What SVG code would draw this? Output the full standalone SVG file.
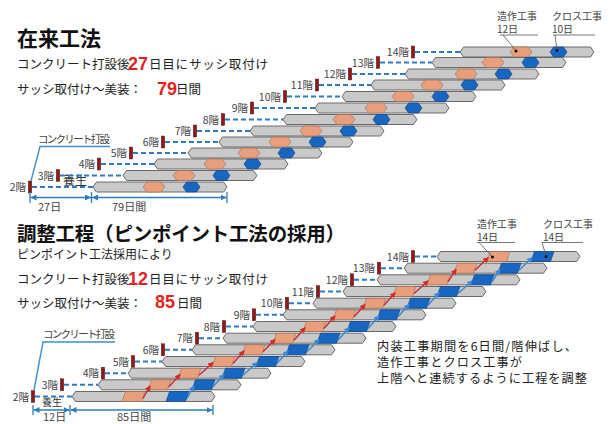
<svg xmlns="http://www.w3.org/2000/svg" xmlns:xlink="http://www.w3.org/1999/xlink" width="610" height="424" viewBox="0 0 610 424">
<style>
text{font-family:"Noto Sans CJK JP","Noto Sans",sans-serif;fill:#222}
.ttl{font-size:21px;font-weight:bold;fill:#111}
.t{font-size:12.5px}
.red{font-family:"Liberation Sans",Arial,sans-serif;font-size:18px;font-weight:bold;fill:#e0231f}
.lbl{font-size:10.5px;fill:#444;text-anchor:end}
.ann{font-size:10px;fill:#444}
.dim{font-size:11px;fill:#444}
.note{font-size:12.2px;fill:#222}
.bar{fill:#c9c9c9;stroke:#6a6a6a;stroke-width:1;stroke-linejoin:round}
.o{fill:#e99f7b;stroke:#9c6a52;stroke-width:0.6}
.b{fill:#1766c2;stroke:#0d3f80;stroke-width:0.6}
.mk{fill:#8c1c1c;stroke:#5a1010;stroke-width:0.4}
.dash{stroke:#2f7bbf;stroke-width:2;stroke-dasharray:5 3;fill:none}
.ra{stroke:#d42a2a;stroke-width:1.5;fill:none;marker-end:url(#ahr)}
.ba{stroke:#3a8ad6;stroke-width:1.5;fill:none;marker-end:url(#ahb)}
.cl{stroke:#3d8fd1;stroke-width:1.4;fill:none}
.dl{stroke:#2f7bbf;stroke-width:1.3;fill:none;marker-start:url(#dhs);marker-end:url(#dhe)}
.tk{stroke:#2f7bbf;stroke-width:1.3}
.al{stroke:#555;stroke-width:0.8;fill:none}
</style>
<defs>
<path id="barT" class="bar" d="M0,0 L3.5,-5 H130.5 L134,0 L130.5,5 H3.5 Z"/>
<path id="barB" class="bar" d="M0,0 L3.5,-5 H139.5 L143,0 L139.5,5 H3.5 Z"/>
<path id="hoT" class="o" d="M0,0 L4,-5 H18 L22,0 L18,5 H4 Z"/>
<path id="hbT" class="b" d="M0,0 L3.5,-5 H13.5 L17,0 L13.5,5 H3.5 Z"/>
<path id="hoB" class="o" d="M0,5 L3.5,-5 H23 L19.5,5 Z"/>
<path id="hbB" class="b" d="M0,5 L3.5,-5 H23 L19.5,5 Z"/>
<rect id="mk" class="mk" x="-1.75" y="-6" width="3.5" height="12"/>
<marker id="ahr" viewBox="0 0 6 6" refX="5" refY="3" markerWidth="6" markerHeight="6" markerUnits="userSpaceOnUse" orient="auto"><path d="M0,0 L6,3 L0,6 Z" fill="#d42a2a"/></marker>
<marker id="ahb" viewBox="0 0 6 6" refX="5" refY="3" markerWidth="6" markerHeight="6" markerUnits="userSpaceOnUse" orient="auto"><path d="M0,0 L6,3 L0,6 Z" fill="#3a8ad6"/></marker>
<marker id="dhe" viewBox="0 0 6 6" refX="6" refY="3" markerWidth="6" markerHeight="6" markerUnits="userSpaceOnUse" orient="auto"><path d="M0,0 L6,3 L0,6 Z" fill="#2f7bbf"/></marker>
<marker id="dhs" viewBox="0 0 6 6" refX="0" refY="3" markerWidth="6" markerHeight="6" markerUnits="userSpaceOnUse" orient="auto"><path d="M6,0 L0,3 L6,6 Z" fill="#2f7bbf"/></marker>
</defs>
<rect width="610" height="424" fill="#ffffff"/>

<!-- Top heading texts -->
<g id="top-text">
<text class="ttl" x="17" y="45.5">在来工法</text>
<text class="t" x="17" y="69">コンクリート打設後</text>
<text class="red" x="128" y="69.5">27</text>
<text class="t" x="149" y="69" textLength="119">日目にサッシ取付け</text>
<text class="t" x="17" y="94">サッシ取付け〜美装：</text>
<text class="red" x="157" y="95">79</text>
<text class="t" x="176" y="94">日間</text>
</g>

<!-- Top rows -->
<g id="top-f14"><text class="lbl" x="409" y="56">14階</text><use href="#mk" x="413" y="52"/><use href="#barT" x="460" y="52"/><use href="#hoT" x="510" y="52"/><use href="#hbT" x="550" y="52"/></g>
<g id="top-f13"><text class="lbl" x="374" y="66.5">13階</text><use href="#mk" x="378" y="62.5"/><use href="#barT" x="432" y="62.5"/><use href="#hoT" x="482" y="62.5"/><use href="#hbT" x="522" y="62.5"/></g>
<g id="top-f12"><text class="lbl" x="346" y="78">12階</text><use href="#mk" x="350" y="74"/><use href="#barT" x="405" y="74"/><use href="#hoT" x="455" y="74"/><use href="#hbT" x="495" y="74"/></g>
<g id="top-f11"><text class="lbl" x="313" y="89">11階</text><use href="#mk" x="317" y="85"/><use href="#barT" x="371" y="85"/><use href="#hoT" x="421" y="85"/><use href="#hbT" x="461" y="85"/></g>
<g id="top-f10"><text class="lbl" x="281" y="100.5">10階</text><use href="#mk" x="285" y="96.5"/><use href="#barT" x="342" y="96.5"/><use href="#hoT" x="392" y="96.5"/><use href="#hbT" x="432" y="96.5"/></g>
<g id="top-f9"><text class="lbl" x="248" y="112">9階</text><use href="#mk" x="252" y="108"/><use href="#barT" x="315" y="108"/><use href="#hoT" x="365" y="108"/><use href="#hbT" x="405" y="108"/></g>
<g id="top-f8"><text class="lbl" x="219" y="123.5">8階</text><use href="#mk" x="223" y="119.5"/><use href="#barT" x="283" y="119.5"/><use href="#hoT" x="333" y="119.5"/><use href="#hbT" x="373" y="119.5"/></g>
<g id="top-f7"><text class="lbl" x="191" y="135">7階</text><use href="#mk" x="195" y="131"/><use href="#barT" x="250" y="131"/><use href="#hoT" x="300" y="131"/><use href="#hbT" x="340" y="131"/></g>
<g id="top-f6"><text class="lbl" x="159" y="146">6階</text><use href="#mk" x="163" y="142"/><use href="#barT" x="219" y="142"/><use href="#hoT" x="269" y="142"/><use href="#hbT" x="309" y="142"/></g>
<g id="top-f5"><text class="lbl" x="127" y="157">5階</text><use href="#mk" x="131" y="153"/><use href="#barT" x="188" y="153"/><use href="#hoT" x="238" y="153"/><use href="#hbT" x="278" y="153"/></g>
<g id="top-f4"><text class="lbl" x="95" y="168">4階</text><use href="#mk" x="99" y="164"/><use href="#barT" x="154" y="164"/><use href="#hoT" x="204" y="164"/><use href="#hbT" x="244" y="164"/></g>
<g id="top-f3"><text class="lbl" x="54" y="179.5">3階</text><use href="#mk" x="58" y="175.5"/><use href="#barT" x="123" y="175.5"/><use href="#hoT" x="173" y="175.5"/><use href="#hbT" x="213" y="175.5"/></g>
<g id="top-f2"><text class="lbl" x="26" y="191">2階</text><use href="#mk" x="30" y="187"/><use href="#barT" x="93" y="187"/><use href="#hoT" x="143" y="187"/><use href="#hbT" x="183" y="187"/></g>

<g id="top-notes">
<text class="ann"><tspan x="497" y="19.5">造作工事</tspan><tspan x="497" y="32.5">12日</tspan></text>
<text class="ann"><tspan x="552" y="19.5">クロス工事</tspan><tspan x="552" y="32.5">10日</tspan></text>
<text x="38" y="143" style="font-size:10.5px;fill:#444" textLength="72">コンクリート打設</text>
<text x="63" y="185" style="font-size:12px;fill:#333">養生</text>
<text class="dim" x="38" y="210.5">27日</text>
<text class="dim" x="112" y="210.5">79日間</text>
</g>

<!-- Bottom heading texts -->
<g id="bottom-text">
<text class="ttl" x="17" y="241" style="font-size:19.5px" textLength="328">調整工程（ピンポイント工法の採用）</text>
<text class="t" x="17" y="258.5" style="font-size:12px">ピンポイント工法採用により</text>
<text class="t" x="17" y="284">コンクリート打設後</text>
<text class="red" x="128" y="285">12</text>
<text class="t" x="149" y="284" textLength="119">日目にサッシ取付け</text>
<text class="t" x="17" y="307.5">サッシ取付け〜美装：</text>
<text class="red" x="155" y="308">85</text>
<text class="t" x="177" y="307.5">日間</text>
</g>

<!-- Bottom rows -->
<g id="bot-f14"><text class="lbl" x="409" y="260.5">14階</text><use href="#mk" x="413" y="256.5"/><use href="#barB" x="437" y="256.5"/><use href="#hoB" x="487" y="256.5"/><use href="#hbB" x="531" y="256.5"/></g>
<g id="bot-f13"><text class="lbl" x="375" y="272.2">13階</text><use href="#mk" x="379" y="268.2"/><use href="#barB" x="404" y="268.2"/><use href="#hoB" x="454" y="268.2"/><use href="#hbB" x="498" y="268.2"/></g>
<g id="bot-f12"><text class="lbl" x="348" y="283.8">12階</text><use href="#mk" x="352" y="279.8"/><use href="#barB" x="377" y="279.8"/><use href="#hoB" x="427" y="279.8"/><use href="#hbB" x="471" y="279.8"/></g>
<g id="bot-f11"><text class="lbl" x="314" y="295.5">11階</text><use href="#mk" x="318" y="291.5"/><use href="#barB" x="343" y="291.5"/><use href="#hoB" x="393" y="291.5"/><use href="#hbB" x="437" y="291.5"/></g>
<g id="bot-f10"><text class="lbl" x="283" y="307.2">10階</text><use href="#mk" x="287" y="303.2"/><use href="#barB" x="313" y="303.2"/><use href="#hoB" x="363" y="303.2"/><use href="#hbB" x="407" y="303.2"/></g>
<g id="bot-f9"><text class="lbl" x="250" y="318.8">9階</text><use href="#mk" x="254" y="314.8"/><use href="#barB" x="283" y="314.8"/><use href="#hoB" x="333" y="314.8"/><use href="#hbB" x="377" y="314.8"/></g>
<g id="bot-f8"><text class="lbl" x="220" y="330.5">8階</text><use href="#mk" x="224" y="326.5"/><use href="#barB" x="253" y="326.5"/><use href="#hoB" x="303" y="326.5"/><use href="#hbB" x="347" y="326.5"/></g>
<g id="bot-f7"><text class="lbl" x="193" y="342.2">7階</text><use href="#mk" x="197" y="338.2"/><use href="#barB" x="223" y="338.2"/><use href="#hoB" x="273" y="338.2"/><use href="#hbB" x="317" y="338.2"/></g>
<g id="bot-f6"><text class="lbl" x="159" y="353.8">6階</text><use href="#mk" x="163" y="349.8"/><use href="#barB" x="192" y="349.8"/><use href="#hoB" x="242" y="349.8"/><use href="#hbB" x="286" y="349.8"/></g>
<g id="bot-f5"><text class="lbl" x="129" y="365.5">5階</text><use href="#mk" x="133" y="361.5"/><use href="#barB" x="162" y="361.5"/><use href="#hoB" x="212" y="361.5"/><use href="#hbB" x="256" y="361.5"/></g>
<g id="bot-f4"><text class="lbl" x="99" y="377.2">4階</text><use href="#mk" x="103" y="373.2"/><use href="#barB" x="128" y="373.2"/><use href="#hoB" x="178" y="373.2"/><use href="#hbB" x="222" y="373.2"/></g>
<g id="bot-f3"><text class="lbl" x="58" y="388.8">3階</text><use href="#mk" x="62" y="384.8"/><use href="#barB" x="98" y="384.8"/><use href="#hoB" x="148" y="384.8"/><use href="#hbB" x="192" y="384.8"/></g>
<g id="bot-f2"><text class="lbl" x="29" y="400.5">2階</text><use href="#mk" x="33" y="396.5"/><use href="#barB" x="72" y="396.5"/><use href="#hoB" x="122" y="396.5"/><use href="#hbB" x="166" y="396.5"/></g>

<g id="bottom-notes">
<text class="ann"><tspan x="477" y="227.5">造作工事</tspan><tspan x="477" y="240.5">14日</tspan></text>
<text class="ann"><tspan x="543" y="227.5">クロス工事</tspan><tspan x="543" y="240.5">14日</tspan></text>
<text x="43" y="338" style="font-size:10.5px;fill:#444" textLength="72">コンクリート打設</text>
<text x="42" y="406" style="font-size:10px;fill:#333">養生</text>
<text class="dim" x="43" y="420.5">12日</text>
<text class="dim" x="117" y="420.5">85日間</text>
<text class="note" x="377" y="351" textLength="200">内装工事期間を6日間/階伸ばし、</text>
<text class="note" x="377" y="367" textLength="145">造作工事とクロス工事が</text>
<text class="note" x="377" y="383" textLength="210">上階へと連続するように工程を調整</text>
</g>

<!-- Connectors -->
<g id="connectors">
<path class="dash" d="M415,52 H460 M380,62.5 H432 M352,74 H405 M319,85 H371 M287,96.5 H342 M254,108 H315 M225,119.5 H283 M197,131 H250 M165,142 H219 M133,153 H188 M101,164 H154 M60,175.5 H123 M32,187 H93"/>
<path class="dash" d="M415,256.5 H437 M381,268.2 H404 M354,279.8 H377 M320,291.5 H343 M289,303.2 H313 M256,314.8 H283 M226,326.5 H253 M199,338.2 H223 M165,349.8 H192 M135,361.5 H162 M105,373.2 H128 M64,384.8 H98 M35,396.5 H72"/>
<path class="ra" d="M143,398.5 L150,386"/>
<path class="ra" d="M169,386.8 L180,374.4"/>
<path class="ra" d="M199,375.2 L213,362.7"/>
<path class="ra" d="M233,363.5 L244,351"/>
<path class="ra" d="M263,351.8 L275,339.4"/>
<path class="ra" d="M294,340.2 L305,327.7"/>
<path class="ra" d="M324,328.5 L335,316"/>
<path class="ra" d="M354,316.8 L365,304.4"/>
<path class="ra" d="M384,305.2 L395,292.7"/>
<path class="ra" d="M414,293.5 L428,281"/>
<path class="ra" d="M448,281.8 L456,269.4"/>
<path class="ra" d="M475,270.2 L488,257.7"/>
<path class="ba" d="M187,398.5 L194,386"/>
<path class="ba" d="M213,386.8 L224,374.4"/>
<path class="ba" d="M243,375.2 L257,362.7"/>
<path class="ba" d="M277,363.5 L288,351"/>
<path class="ba" d="M307,351.8 L319,339.4"/>
<path class="ba" d="M338,340.2 L349,327.7"/>
<path class="ba" d="M368,328.5 L379,316"/>
<path class="ba" d="M398,316.8 L409,304.4"/>
<path class="ba" d="M428,305.2 L439,292.7"/>
<path class="ba" d="M458,293.5 L472,281"/>
<path class="ba" d="M492,281.8 L500,269.4"/>
<path class="ba" d="M519,270.2 L532,257.7"/>
<path class="cl" d="M110,146.5 H40 L31,181"/>
<path class="cl" d="M115,342 H43 L34,390"/>
<line class="tk" x1="30" y1="192" x2="30" y2="203"/>
<line class="tk" x1="91.5" y1="192" x2="91.5" y2="203"/>
<line class="tk" x1="227" y1="192" x2="227" y2="203"/>
<path class="dl" d="M30.5,197.5 H91"/>
<path class="dl" d="M92,197.5 H226.5"/>
<line class="tk" x1="33" y1="405" x2="33" y2="415"/>
<line class="tk" x1="70" y1="405" x2="70" y2="415"/>
<line class="tk" x1="213" y1="405" x2="213" y2="415"/>
<path class="dl" d="M33.5,410 H69.5"/>
<path class="dl" d="M70.5,410 H212.5"/>
<path class="al" d="M500,35 H538 M503,35 L516,50.5 M553,35 H595 M555,35 L557,50"/>
<circle cx="516" cy="51" r="1.5" fill="#111"/>
<circle cx="557" cy="50.5" r="1.5" fill="#111"/>
<path class="al" d="M477,242.5 H515 M479,242.5 L492,256.5 M542,242.5 H583 M542,242.5 L546,256"/>
<circle cx="492.5" cy="257" r="1.5" fill="#111"/>
<circle cx="546" cy="256.5" r="1.5" fill="#111"/>
</g>
</svg>
